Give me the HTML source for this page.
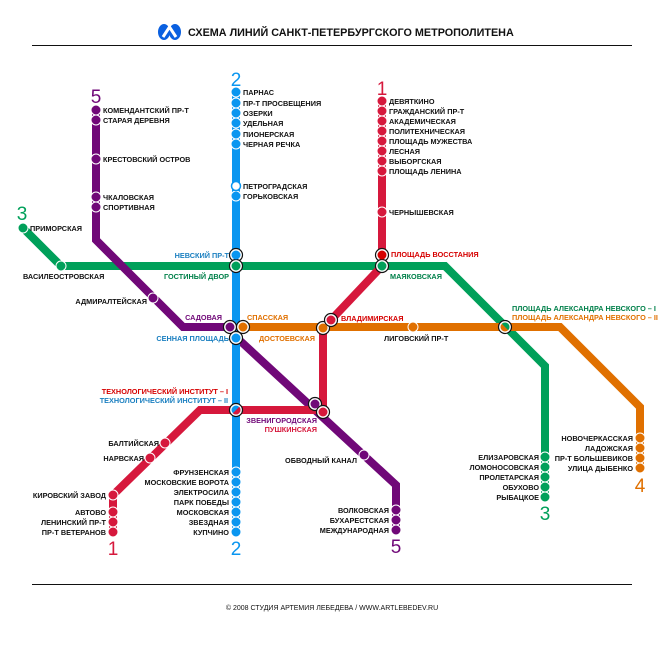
<!DOCTYPE html>
<html><head><meta charset="utf-8"><style>
html,body{margin:0;padding:0;background:#fff;}
svg{display:block;}
text{font-family:"Liberation Sans","DejaVu Sans",sans-serif;font-weight:bold;font-size:7.3px;fill:#111;}
.n{font-weight:normal;font-size:19px;}
.r{text-anchor:end;}
</style></head><body>
<svg width="665" height="650" viewBox="0 0 665 650" xmlns="http://www.w3.org/2000/svg">
<rect width="665" height="650" fill="#fff"/>
<g fill="#0a60e0">
<ellipse cx="164" cy="32" rx="6" ry="8"/>
<ellipse cx="175" cy="32" rx="6" ry="8"/>
</g>
<path d="M163 37 L169.5 27 L176 37" stroke="#fff" stroke-width="3" fill="none"/>
<text x="188" y="36" style="font-size:10.8px;font-weight:bold;letter-spacing:0">СХЕМА ЛИНИЙ САНКТ-ПЕТЕРБУРГСКОГО МЕТРОПОЛИТЕНА</text>
<line x1="32" y1="45.5" x2="632" y2="45.5" stroke="#111" stroke-width="1"/>
<line x1="32" y1="584.5" x2="632" y2="584.5" stroke="#111" stroke-width="1"/>
<text x="332" y="610" text-anchor="middle" style="font-size:7px;font-weight:normal">© 2008 СТУДИЯ АРТЕМИЯ ЛЕБЕДЕВА  /  WWW.ARTLEBEDEV.RU</text>

<g fill="none" stroke-width="8" stroke-linejoin="miter">
<polyline stroke="#00a05a" points="23,228 61,266 445,266 545,366 545,497"/>
<polyline stroke="#e07000" points="243,327 560,327 640,407 640,468"/>
<polyline stroke="#700878" points="96,110 96,240 183,327 230,327"/>
<polyline stroke="#700878" points="236,337 396,485 396,530"/>
<polyline stroke="#0a96f0" points="236,92 236,532"/>
<polyline stroke="#d6183c" points="382,101 382,266 331,320 323,328 323,410 200,410 113,495 113,532"/>
</g>

<g stroke="#fff" stroke-width="1">
<g fill="#0a96f0">
<circle cx="236" cy="92" r="5"/><circle cx="236" cy="103" r="5"/><circle cx="236" cy="113" r="5"/><circle cx="236" cy="123" r="5"/><circle cx="236" cy="134" r="5"/><circle cx="236" cy="144" r="5"/>
<circle cx="236" cy="196" r="5"/>
<circle cx="236" cy="472" r="5"/><circle cx="236" cy="482" r="5"/><circle cx="236" cy="492" r="5"/><circle cx="236" cy="502" r="5"/><circle cx="236" cy="512" r="5"/><circle cx="236" cy="522" r="5"/><circle cx="236" cy="532" r="5"/>
</g>
<circle cx="236" cy="186" r="4.5" fill="#fff" stroke="#0a96f0" stroke-width="1.5"/>
<g fill="#d6183c">
<circle cx="382" cy="101" r="5"/><circle cx="382" cy="111" r="5"/><circle cx="382" cy="121" r="5"/><circle cx="382" cy="131" r="5"/><circle cx="382" cy="141" r="5"/><circle cx="382" cy="151" r="5"/><circle cx="382" cy="161" r="5"/><circle cx="382" cy="171" r="5"/>
<circle cx="382" cy="212" r="5"/>
<circle cx="165" cy="443" r="5"/><circle cx="150" cy="458" r="5"/><circle cx="113" cy="495" r="5"/>
<circle cx="113" cy="512" r="5"/><circle cx="113" cy="522" r="5"/><circle cx="113" cy="532" r="5"/>
</g>
<g fill="#700878">
<circle cx="96" cy="110" r="5"/><circle cx="96" cy="120" r="5"/><circle cx="96" cy="159" r="5"/><circle cx="96" cy="197" r="5"/><circle cx="96" cy="207" r="5"/>
<circle cx="153" cy="298" r="5"/><circle cx="364" cy="455" r="5"/>
<circle cx="396" cy="510" r="5"/><circle cx="396" cy="520" r="5"/><circle cx="396" cy="530" r="5"/>
</g>
<g fill="#00a05a">
<circle cx="23" cy="228" r="5"/><circle cx="61" cy="266" r="5"/>
<circle cx="545" cy="457" r="5"/><circle cx="545" cy="467" r="5"/><circle cx="545" cy="477" r="5"/><circle cx="545" cy="487" r="5"/><circle cx="545" cy="497" r="5"/>
</g>
<g fill="#e07000">
<circle cx="413" cy="327" r="5"/>
<circle cx="640" cy="438" r="5"/><circle cx="640" cy="448" r="5"/><circle cx="640" cy="458" r="5"/><circle cx="640" cy="468" r="5"/>
</g>
</g>

<g stroke="#111" stroke-width="1.2" fill="#fff">
<circle cx="236" cy="255" r="6.5"/><circle cx="236" cy="266" r="6.5"/>
<circle cx="382" cy="255" r="6.5"/><circle cx="382" cy="266" r="6.5"/>
<circle cx="230" cy="327" r="6.5"/><circle cx="243" cy="327" r="6.5"/><circle cx="236" cy="338" r="6.5"/>
<circle cx="323" cy="328" r="6.5"/><circle cx="331" cy="320" r="6.5"/>
<circle cx="315" cy="404" r="6.5"/><circle cx="323" cy="412" r="6.5"/>
<circle cx="236" cy="410" r="6.5"/>
<circle cx="505" cy="327" r="6.5"/>
</g>
<g>
<circle cx="236" cy="255" r="4.5" fill="#0a96f0"/><circle cx="236" cy="266" r="4.5" fill="#00a05a"/>
<circle cx="382" cy="255" r="4.5" fill="#d60000"/><circle cx="382" cy="266" r="4.5" fill="#00a05a"/>
<circle cx="230" cy="327" r="4.5" fill="#700878"/><circle cx="243" cy="327" r="4.5" fill="#e07000"/><circle cx="236" cy="338" r="4.5" fill="#0a96f0"/>
<circle cx="323" cy="328" r="4.5" fill="#e07000"/><circle cx="331" cy="320" r="4.5" fill="#d6183c"/>
<circle cx="315" cy="404" r="4.5" fill="#700878"/><circle cx="323" cy="412" r="4.5" fill="#d6183c"/>
<circle cx="236" cy="410" r="4.5" fill="#0a96f0"/>
<path d="M232.8 413.2 L239.2 406.8 A4.5 4.5 0 0 1 232.8 413.2Z" fill="#d6183c"/>
<circle cx="505" cy="327" r="4.5" fill="#e07000"/>
<path d="M501.8 323.8 L508.2 330.2 A4.5 4.5 0 0 0 501.8 323.8Z" fill="#00a05a"/>
</g>

<text class="n" x="236" y="86" text-anchor="middle" style="fill:#0a96f0">2</text>
<text class="n" x="382" y="95" text-anchor="middle" style="fill:#d6183c">1</text>
<text class="n" x="96" y="103" text-anchor="middle" style="fill:#700878">5</text>
<text class="n" x="22" y="220" text-anchor="middle" style="fill:#00a05a">3</text>
<text class="n" x="113" y="555" text-anchor="middle" style="fill:#d6183c">1</text>
<text class="n" x="236" y="555" text-anchor="middle" style="fill:#0a96f0">2</text>
<text class="n" x="545" y="520" text-anchor="middle" style="fill:#00a05a">3</text>
<text class="n" x="640" y="492" text-anchor="middle" style="fill:#e07000">4</text>
<text class="n" x="396" y="553" text-anchor="middle" style="fill:#700878">5</text>

<text x="243" y="95">ПАРНАС</text>
<text x="243" y="106">ПР-Т ПРОСВЕЩЕНИЯ</text>
<text x="243" y="116">ОЗЕРКИ</text>
<text x="243" y="126">УДЕЛЬНАЯ</text>
<text x="243" y="137">ПИОНЕРСКАЯ</text>
<text x="243" y="147">ЧЕРНАЯ РЕЧКА</text>
<text x="243" y="189">ПЕТРОГРАДСКАЯ</text>
<text x="243" y="199">ГОРЬКОВСКАЯ</text>
<text class="r" x="229" y="258" style="fill:#1a7fc0">НЕВСКИЙ ПР-Т</text>
<text class="r" x="229" y="279" style="fill:#00804a">ГОСТИНЫЙ ДВОР</text>
<text class="r" x="222" y="320" style="fill:#700878">САДОВАЯ</text>
<text class="r" x="229" y="341" style="fill:#1a7fc0">СЕННАЯ ПЛОЩАДЬ</text>
<text x="247" y="320" style="fill:#e07000">СПАССКАЯ</text>
<text class="r" x="315" y="341" style="fill:#e07000">ДОСТОЕВСКАЯ</text>
<text class="r" x="228" y="394" style="fill:#d60000">ТЕХНОЛОГИЧЕСКИЙ ИНСТИТУТ – I</text>
<text class="r" x="228" y="403" style="fill:#1a7fc0">ТЕХНОЛОГИЧЕСКИЙ ИНСТИТУТ – II</text>
<text class="r" x="229" y="475">ФРУНЗЕНСКАЯ</text>
<text class="r" x="229" y="485">МОСКОВСКИЕ ВОРОТА</text>
<text class="r" x="229" y="495">ЭЛЕКТРОСИЛА</text>
<text class="r" x="229" y="505">ПАРК ПОБЕДЫ</text>
<text class="r" x="229" y="515">МОСКОВСКАЯ</text>
<text class="r" x="229" y="525">ЗВЕЗДНАЯ</text>
<text class="r" x="229" y="535">КУПЧИНО</text>

<text x="389" y="104">ДЕВЯТКИНО</text>
<text x="389" y="114">ГРАЖДАНСКИЙ ПР-Т</text>
<text x="389" y="124">АКАДЕМИЧЕСКАЯ</text>
<text x="389" y="134">ПОЛИТЕХНИЧЕСКАЯ</text>
<text x="389" y="144">ПЛОЩАДЬ МУЖЕСТВА</text>
<text x="389" y="154">ЛЕСНАЯ</text>
<text x="389" y="164">ВЫБОРГСКАЯ</text>
<text x="389" y="174">ПЛОЩАДЬ ЛЕНИНА</text>
<text x="389" y="215">ЧЕРНЫШЕВСКАЯ</text>
<text x="391" y="257" style="fill:#d60000">ПЛОЩАДЬ ВОССТАНИЯ</text>
<text x="390" y="279" style="fill:#00804a">МАЯКОВСКАЯ</text>
<text x="341" y="321" style="fill:#d60000">ВЛАДИМИРСКАЯ</text>
<text x="384" y="341">ЛИГОВСКИЙ ПР-Т</text>
<text class="r" x="317" y="423" style="fill:#700878">ЗВЕНИГОРОДСКАЯ</text>
<text class="r" x="317" y="432" style="fill:#d6183c">ПУШКИНСКАЯ</text>
<text class="r" x="159" y="446">БАЛТИЙСКАЯ</text>
<text class="r" x="144" y="461">НАРВСКАЯ</text>
<text class="r" x="106" y="498">КИРОВСКИЙ ЗАВОД</text>
<text class="r" x="106" y="515">АВТОВО</text>
<text class="r" x="106" y="525">ЛЕНИНСКИЙ ПР-Т</text>
<text class="r" x="106" y="535">ПР-Т ВЕТЕРАНОВ</text>

<text x="103" y="113">КОМЕНДАНТСКИЙ ПР-Т</text>
<text x="103" y="123">СТАРАЯ ДЕРЕВНЯ</text>
<text x="103" y="162">КРЕСТОВСКИЙ ОСТРОВ</text>
<text x="103" y="200">ЧКАЛОВСКАЯ</text>
<text x="103" y="210">СПОРТИВНАЯ</text>
<text class="r" x="147" y="304">АДМИРАЛТЕЙСКАЯ</text>
<text class="r" x="357" y="463">ОБВОДНЫЙ КАНАЛ</text>
<text class="r" x="389" y="513">ВОЛКОВСКАЯ</text>
<text class="r" x="389" y="523">БУХАРЕСТСКАЯ</text>
<text class="r" x="389" y="533">МЕЖДУНАРОДНАЯ</text>

<text x="30" y="231">ПРИМОРСКАЯ</text>
<text x="23" y="279">ВАСИЛЕОСТРОВСКАЯ</text>
<text x="512" y="311" style="fill:#00804a">ПЛОЩАДЬ АЛЕКСАНДРА НЕВСКОГО – I</text>
<text x="512" y="320" style="fill:#e07000">ПЛОЩАДЬ АЛЕКСАНДРА НЕВСКОГО – II</text>
<text class="r" x="539" y="460">ЕЛИЗАРОВСКАЯ</text>
<text class="r" x="539" y="470">ЛОМОНОСОВСКАЯ</text>
<text class="r" x="539" y="480">ПРОЛЕТАРСКАЯ</text>
<text class="r" x="539" y="490">ОБУХОВО</text>
<text class="r" x="539" y="500">РЫБАЦКОЕ</text>

<text class="r" x="633" y="441">НОВОЧЕРКАССКАЯ</text>
<text class="r" x="633" y="451">ЛАДОЖСКАЯ</text>
<text class="r" x="633" y="461">ПР-Т БОЛЬШЕВИКОВ</text>
<text class="r" x="633" y="471">УЛИЦА ДЫБЕНКО</text>
</svg>
</body></html>
